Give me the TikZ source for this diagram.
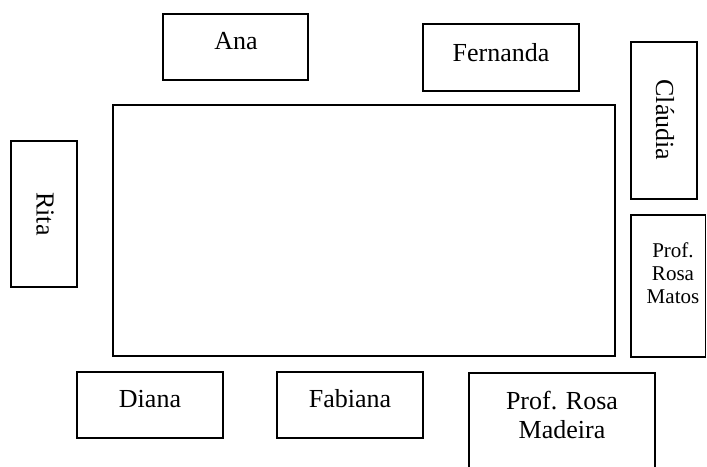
\documentclass[tikz,border=0pt]{standalone}
\usepackage{fontspec}
\setmainfont{Liberation Serif}
\usetikzlibrary{fit}

\begin{document}
\begin{tikzpicture}[x=0.4615pt,y=-0.4615pt,
  seat/.style={draw,line width=0.75pt,inner sep=0pt},
  nome/.style={font=\fontsize{12}{13.8}\selectfont,align=center,inner sep=0pt},
  nomep/.style={font=\fontsize{9.7}{10.6}\selectfont,align=center,inner sep=0pt}]
\clip (0,0) rectangle (707,466);
% mesa
\node[seat,fit={(113,105)(615,356)}] (mesa) {};
% lugares em cima
\node[seat,fit={(163,14)(308,80)}] (ana) {};
\node[nome] (tana) at (236,41) {Ana};
\node[seat,fit={(423,24)(579,91)}] (fernanda) {};
\node[nome] (tfernanda) at (501,53) {Fernanda};
% lados
\node[seat,fit={(11,141)(77,287)}] (rita) {};
\node[nome,rotate=-90] (trita) at (45,214) {Rita};
\node[seat,fit={(631,42)(697,199)}] (claudia) {};
\node[nome,rotate=-90] (tclaudia) at (665,120) {Cláudia};
\node[seat,fit={(631,215)(705.5,357)}] (matos) {};
\node[nomep] (tmatos) at (673,273) {Prof.\\Rosa\\Matos};
% lugares em baixo
\node[seat,fit={(77,372)(223,438)}] (diana) {};
\node[nome] (tdiana) at (150,399) {Diana};
\node[seat,fit={(277,372)(423,438)}] (fabiana) {};
\node[nome] (tfabiana) at (350,399) {Fabiana};
\node[seat,fit={(469,373)(655,490)}] (madeira) {};
\node[nome] (tmadeira) at (562,415) {Prof. Rosa\\Madeira};
\end{tikzpicture}
\end{document}
